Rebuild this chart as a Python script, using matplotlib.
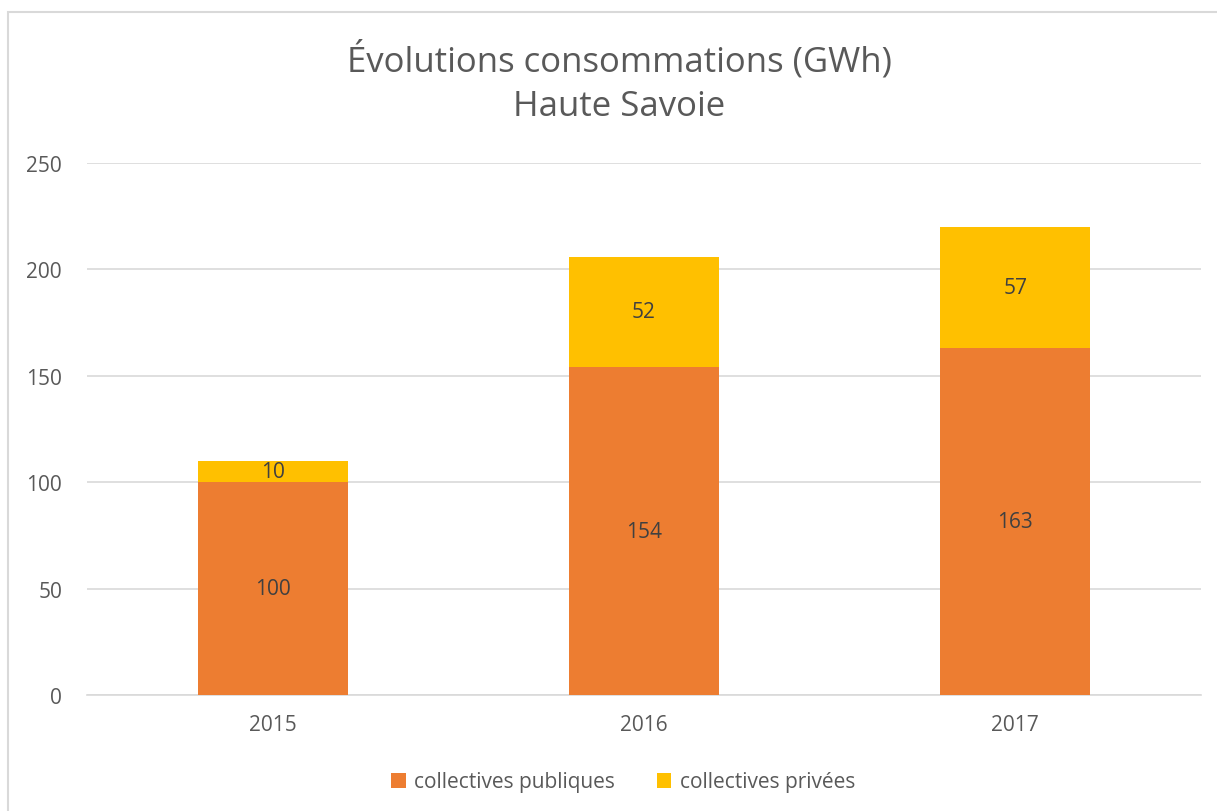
import matplotlib.pyplot as plt
import matplotlib.patches as mpatches
import numpy as np

years = ['2015', '2016', '2017']
publiques = [100, 154, 163]
privees = [10, 52, 57]
series_names = ['collectives publiques', 'collectives privées']

plt.rcParams['font.family'] = ['Open Sans', 'DejaVu Sans']
txt = '#595959'
orange = '#ED7D31'
yellow = '#FFC000'

fig = plt.figure(figsize=(12.17, 8.12), dpi=100)
ax = fig.add_axes([87 / 1217, 1 - 696 / 812, 1114 / 1217, 532 / 812])

# chart frame (right/bottom edges run off the picture)
frame = mpatches.Rectangle((8 / 1217, -0.05), 1.2, 1 - 13 / 812 + 0.05,
                           transform=fig.transFigure, fill=False,
                           edgecolor='#D9D9D9', linewidth=1.5)
fig.patches.append(frame)

x = np.arange(len(years))
w = 0.404
b1 = ax.bar(x, publiques, w, color=orange, label=series_names[0], zorder=3)
b2 = ax.bar(x, privees, w, bottom=publiques, color=yellow, label=series_names[1], zorder=3)

for i in range(len(years)):
    ax.text(x[i], publiques[i] / 2, str(publiques[i]), ha='center', va='center',
            fontsize=15, color='#404040', zorder=4)
    ax.text(x[i], publiques[i] + privees[i] / 2, str(privees[i]), ha='center', va='center',
            fontsize=15, color='#404040', zorder=4)

ax.set_xlim(-0.5, 2.5)
ax.set_ylim(0, 250)
ax.set_yticks(range(0, 251, 50))
ax.set_xticks(x)
ax.set_xticklabels(years)
ax.grid(axis='y', color='#D9D9D9', linewidth=1.2, zorder=0)
for s in ['top', 'right', 'left']:
    ax.spines[s].set_visible(False)
ax.spines['bottom'].set_color('#D9D9D9')
ax.spines['bottom'].set_linewidth(1.2)
ax.tick_params(axis='both', length=0, labelsize=15, colors=txt)
ax.tick_params(axis='y', pad=18)
ax.tick_params(axis='x', pad=14)

fig.text(619 / 1217, 1 - 60 / 812, 'Évolutions consommations (GWh)', ha='center', va='center',
         fontsize=25, color=txt)
fig.text(619 / 1217, 1 - 107 / 812, 'Haute Savoie', ha='center', va='center',
         fontsize=25, color=txt)

fig.legend(handles=[b1, b2], loc='center', bbox_to_anchor=(623 / 1217, 1 - 783 / 812),
           ncol=2, frameon=False, fontsize=15, labelcolor=txt,
           handlelength=0.7, handleheight=0.7, handletextpad=0.4, columnspacing=2.0)

fig.savefig('out.png', dpi=100)
